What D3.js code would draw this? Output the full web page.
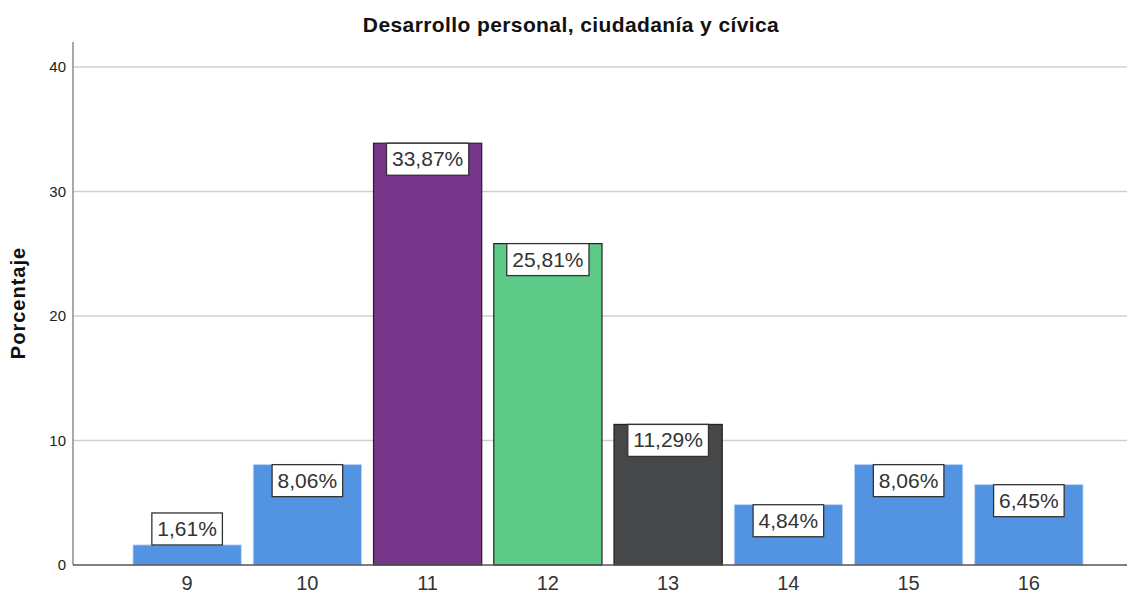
<!DOCTYPE html>
<html>
<head>
<meta charset="utf-8">
<script src="https://cdn.jsdelivr.net/npm/d3@7"></script>
<style>
  body { margin: 0; background: #fff; }
  text { font-family: Arial, "Liberation Sans", sans-serif; }
</style>
</head>
<body>
<div id="chart"></div>
<script>
// data
const categories = ["9", "10", "11", "12", "13", "14", "15", "16"];
const percents = [1.61, 8.06, 33.87, 25.81, 11.29, 4.84, 8.06, 6.45];
const barColors = ["#5294e2", "#5294e2", "#77368a", "#5dca88", "#454749", "#5294e2", "#5294e2", "#5294e2"];
const yTicks = [0, 10, 20, 30, 40];
const title = "Desarrollo personal, ciudadanía y cívica";
const yLabel = "Porcentaje";

const W = 1128, H = 594;
const plot = {left: 73, right: 1127, top: 42, bottom: 565};

const svg = d3.select("#chart")
    .append("svg")
    .attr("width", W)
    .attr("height", H);

const x = d3.scaleBand()
    .domain(categories)
    .range([127, 1089])
    .paddingInner(0.1)
    .paddingOuter(0.05);

const y = d3.scaleLinear()
    .domain([0, 42])
    .range([plot.bottom, plot.top]);

// gridlines
svg.append("g")
    .selectAll("line")
    .data(yTicks.filter(d => d > 0))
    .join("line")
    .attr("x1", plot.left)
    .attr("x2", plot.right)
    .attr("y1", d => y(d))
    .attr("y2", d => y(d))
    .attr("stroke", "#cfcfcf")
    .attr("stroke-width", 1.5);

// y tick labels
svg.append("g")
    .selectAll("text")
    .data(yTicks)
    .join("text")
    .attr("x", plot.left - 7)
    .attr("y", d => y(d))
    .attr("dy", "0.35em")
    .attr("text-anchor", "end")
    .attr("font-size", 15)
    .attr("fill", "#222")
    .text(d => d);

// bars
svg.append("g")
    .selectAll("rect")
    .data(percents)
    .join("rect")
    .attr("x", (d, i) => x(categories[i]))
    .attr("y", d => y(d))
    .attr("width", x.bandwidth())
    .attr("height", d => y(0) - y(d))
    .attr("fill", (d, i) => barColors[i])
    .attr("stroke", (d, i) => barColors[i] == "#5294e2" ? "#b8d3f5" : "#222")
    .attr("stroke-width", (d, i) => barColors[i] == "#5294e2" ? 0.8 : 1.2);

// axis lines
svg.append("line")
    .attr("x1", plot.left).attr("x2", plot.left)
    .attr("y1", plot.top).attr("y2", plot.bottom)
    .attr("stroke", "#8c8c8c")
    .attr("stroke-width", 1.5);
svg.append("line")
    .attr("x1", plot.left).attr("x2", plot.right)
    .attr("y1", plot.bottom).attr("y2", plot.bottom)
    .attr("stroke", "#555")
    .attr("stroke-width", 1.5);

// x tick labels
svg.append("g")
    .selectAll("text")
    .data(categories)
    .join("text")
    .attr("x", d => x(d) + x.bandwidth() / 2)
    .attr("y", 590)
    .attr("text-anchor", "middle")
    .attr("font-size", 20)
    .attr("fill", "#333")
    .text(d => d);

// value labels in boxes
const fmt = d => d.toFixed(2).replace(".", ",") + "%";
const boxH = 32;
const labels = svg.append("g")
    .selectAll("g")
    .data(percents)
    .join("g")
    .attr("transform", (d, i) => {
        const cx = x(categories[i]) + x.bandwidth() / 2;
        const barH = y(0) - y(d);
        const top = barH > boxH + 4 ? y(d) : y(d) - boxH;
        return `translate(${cx},${top})`;
    });

labels.append("text")
    .attr("y", 23)
    .attr("text-anchor", "middle")
    .attr("font-size", 21)
    .attr("fill", "#333")
    .text(fmt);

labels.each(function() {
    const g = d3.select(this);
    const w = g.select("text").node().getComputedTextLength() + 11;
    g.insert("rect", "text")
        .attr("x", -w / 2)
        .attr("y", 0)
        .attr("width", w)
        .attr("height", boxH)
        .attr("fill", "#fff")
        .attr("stroke", "#333")
        .attr("stroke-width", 1.3);
});

// title
svg.append("text")
    .attr("x", 571)
    .attr("y", 32)
    .attr("text-anchor", "middle")
    .attr("font-size", 21)
    .attr("font-weight", "bold")
    .attr("letter-spacing", 0.4)
    .attr("fill", "#111")
    .text(title);

// y axis label
svg.append("text")
    .attr("transform", `translate(25,303) rotate(-90)`)
    .attr("text-anchor", "middle")
    .attr("font-size", 20)
    .attr("font-weight", "bold")
    .attr("letter-spacing", 1)
    .attr("fill", "#111")
    .text(yLabel);
</script>
</body>
</html>
